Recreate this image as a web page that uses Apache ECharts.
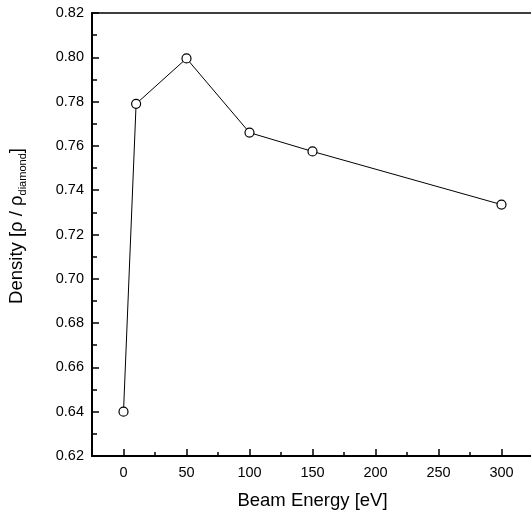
<!DOCTYPE html>
<html>
<head>
<meta charset="utf-8">
<script src="https://cdn.jsdelivr.net/npm/echarts@6/dist/echarts.min.js"></script>
<style>
  html, body { margin: 0; padding: 0; background: #fff; }
  #chart { width: 531px; height: 516px; }
</style>
</head>
<body>
<div id="chart"></div>
<script>
// beam energy (eV) vs density (rho / rho_diamond)
const energy = [0, 10, 50, 100, 150, 300];
const density = [0.640, 0.779, 0.7995, 0.766, 0.7575, 0.7335];
const xMajorTicks = [0, 50, 100, 150, 200, 250, 300];
const xMinorTicks = [25, 75, 125, 175, 225, 275];

const font = 'Arial, "Liberation Sans", sans-serif';
const chart = echarts.init(document.getElementById('chart'));

const option = {
    animation: false,
    backgroundColor: '#fff',
    grid: {
        left: 92, right: -2, top: 13, bottom: 60,
        show: true, borderColor: '#000', borderWidth: 1.5,
        outerBoundsMode: 'none'
    },
    xAxis: [{
        type: 'value',
        min: -25, max: 325,
        name: 'Beam Energy [eV]',
        nameLocation: 'middle',
        nameGap: 35,
        nameTextStyle: { fontFamily: font, fontSize: 18.5, color: '#000' },
        axisLine: { show: true, onZero: false, lineStyle: { color: '#000', width: 2 } },
        axisTick: { show: true, inside: true, length: 7, customValues: xMajorTicks, lineStyle: { color: '#000', width: 1.5 } },
        axisLabel: { customValues: xMajorTicks, margin: 9, fontFamily: font, fontSize: 14.5, color: '#000' },
        splitLine: { show: false }
    }, {
        type: 'value',
        min: -25, max: 325,
        position: 'bottom',
        axisLine: { show: false },
        axisTick: { show: true, inside: true, length: 4, customValues: xMinorTicks, lineStyle: { color: '#000', width: 1.5 } },
        axisLabel: { show: false },
        splitLine: { show: false }
    }],
    yAxis: {
        type: 'value',
        min: 0.62, max: 0.82, interval: 0.02,
        axisLine: { show: true, onZero: false, lineStyle: { color: '#000', width: 2 } },
        axisTick: { show: true, inside: true, length: 7, lineStyle: { color: '#000', width: 1.5 } },
        minorTick: { show: true, splitNumber: 2, length: 5, lineStyle: { color: '#000', width: 1.5 } },
        axisLabel: {
            margin: 8, fontFamily: font, fontSize: 14.5, color: '#000',
            formatter: v => v.toFixed(2)
        },
        splitLine: { show: false }
    },
    graphic: [{
        type: 'text',
        x: 17, y: 226,
        rotation: Math.PI / 2,
        style: {
            text: '{a|Density [ρ / ρ}{s|diamond}{a|]}',
            align: 'center',
            verticalAlign: 'middle',
            fill: '#000',
            rich: {
                a: { fontFamily: font, fontSize: 18.5, lineHeight: 22, verticalAlign: 'middle', fill: '#000' },
                s: { fontFamily: font, fontSize: 11, lineHeight: 9, verticalAlign: 'bottom', fill: '#000' }
            }
        }
    }],
    series: [{
        type: 'line',
        xAxisIndex: 0,
        data: energy.map((e, i) => [e, density[i]]),
        symbol: 'circle',
        symbolSize: 9,
        lineStyle: { color: '#000', width: 1 },
        itemStyle: { color: '#fff', borderColor: '#000', borderWidth: 1.2 }
    }]
};
chart.setOption(option);
</script>
</body>
</html>
